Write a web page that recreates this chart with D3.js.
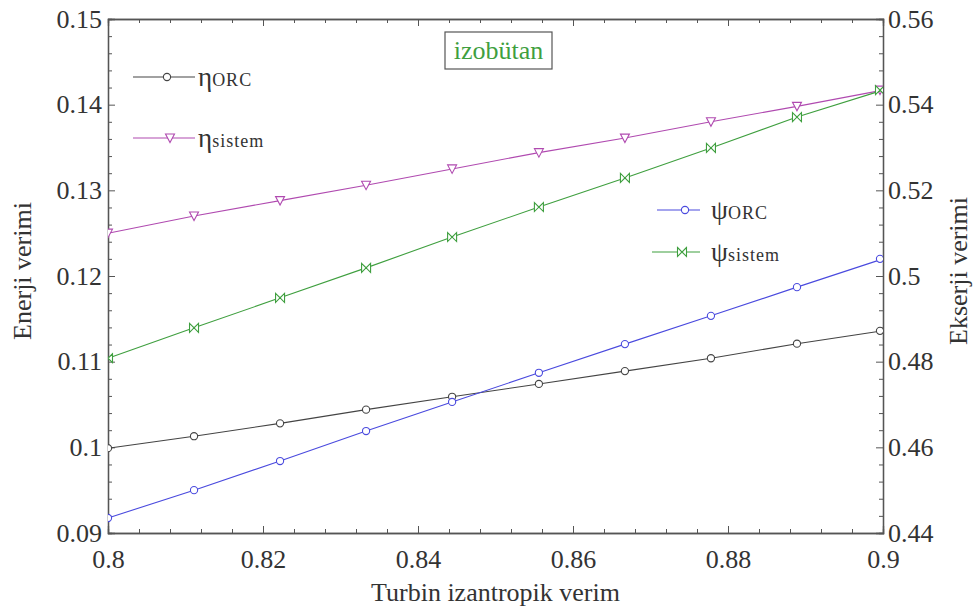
<!DOCTYPE html>
<html>
<head>
<meta charset="utf-8">
<script src="https://cdn.jsdelivr.net/npm/d3@7"></script>
<style>
  body { margin: 0; background: #fff; }
  svg text { font-family: "Liberation Serif", "Times New Roman", serif; fill: #333; }
</style>
</head>
<body>
<div id="chart"></div>
<script>
// turbine isentropic efficiency
var turbinVerim = [0.8, 0.8111, 0.8222, 0.8333, 0.8444, 0.8556, 0.8667, 0.8778, 0.8889, 0.9];
// energy efficiencies (left axis)
var etaORC = [0.0999, 0.1013, 0.1028, 0.1044, 0.1059, 0.1074, 0.1089, 0.1104, 0.1121, 0.1136];
var etaSistem = [0.1250, 0.1270, 0.1288, 0.1306, 0.1325, 0.1344, 0.1361, 0.1380, 0.1398, 0.1417];
// exergy efficiencies (right axis)
var psiORC = [0.4435, 0.4500, 0.4568, 0.4638, 0.4706, 0.4774, 0.4841, 0.4907, 0.4974, 0.5040];
var psiSistem = [0.4808, 0.4879, 0.4949, 0.5019, 0.5091, 0.5161, 0.5229, 0.5299, 0.5371, 0.5434];

var xTicks = [0.8, 0.82, 0.84, 0.86, 0.88, 0.9];
var yLeftTicks = [0.09, 0.1, 0.11, 0.12, 0.13, 0.14, 0.15];
var yRightTicks = [0.44, 0.46, 0.48, 0.5, 0.52, 0.54, 0.56];

var serif = '"Liberation Serif", "Times New Roman", serif';

var margin = { top: 19, right: 95, bottom: 75, left: 108 },
    width = 978 - margin.left - margin.right,
    height = 608 - margin.top - margin.bottom;

var svg = d3.select("#chart").append("svg")
    .attr("width", 978)
    .attr("height", 608)
    .append("g")
    .attr("transform", "translate(" + margin.left + "," + margin.top + ")");

var x = d3.scaleLinear().domain([0.8, 0.9]).range([0, width]);
var yL = d3.scaleLinear().domain([0.09, 0.15]).range([height, 0]);
var yR = d3.scaleLinear().domain([0.44, 0.56]).range([height, 0]);

function minor(ticks, n) {
    var out = [];
    for (var i = 0; i < ticks.length - 1; i++) {
        var step = (ticks[i + 1] - ticks[i]) / n;
        for (var j = 1; j < n; j++) out.push(ticks[i] + step * j);
    }
    return out;
}

// clip for the markers
svg.append("clipPath").attr("id", "plotclip")
    .append("rect").attr("x", 0).attr("y", 0).attr("width", width).attr("height", height);

// minor ticks (inward)
svg.append("g").attr("transform", "translate(0," + height + ")")
    .call(d3.axisBottom(x).tickValues(minor(xTicks, 5)).tickSize(-4).tickFormat(""));
svg.append("g")
    .call(d3.axisTop(x).tickValues(minor(xTicks, 5)).tickSize(-4).tickFormat(""));
svg.append("g")
    .call(d3.axisLeft(yL).tickValues(minor(yLeftTicks, 5)).tickSize(-4).tickFormat(""));
svg.append("g").attr("transform", "translate(" + width + ",0)")
    .call(d3.axisRight(yR).tickValues(minor(yRightTicks, 5)).tickSize(-4).tickFormat(""));

// major ticks + labels
svg.append("g").attr("class", "ax").attr("transform", "translate(0," + height + ")")
    .call(d3.axisBottom(x).tickValues(xTicks).tickSize(-7).tickPadding(17).tickFormat(d3.format("")));
svg.append("g").attr("class", "ax")
    .call(d3.axisTop(x).tickValues(xTicks).tickSize(-7).tickFormat(""));
svg.append("g").attr("class", "ax")
    .call(d3.axisLeft(yL).tickValues(yLeftTicks).tickSize(-7).tickPadding(6).tickFormat(d3.format("")));
svg.append("g").attr("class", "ax").attr("transform", "translate(" + width + ",0)")
    .call(d3.axisRight(yR).tickValues(yRightTicks).tickSize(-7).tickPadding(5).tickFormat(d3.format("")));

svg.selectAll(".ax").attr("font-family", serif).attr("font-size", 26);
svg.selectAll(".domain").attr("stroke", "#555").attr("stroke-width", 1.3);
svg.selectAll(".tick line").attr("stroke", "#555");
svg.selectAll(".tick text")
    .attr("font-family", serif)
    .style("font-family", serif)
    .style("font-size", "26px").attr("fill", "#333");

// axis titles
svg.append("text")
    .attr("x", width / 2).attr("y", height + 68)
    .style("text-anchor", "middle").style("font-size", "26px")
    .text("Turbin izantropik verim");
svg.append("text")
    .attr("transform", "rotate(-90)")
    .attr("x", -height / 2 + 5).attr("y", -77)
    .style("text-anchor", "middle").style("font-size", "26px")
    .text("Enerji verimi");
svg.append("text")
    .attr("transform", "rotate(-90)")
    .attr("x", -height / 2 + 5).attr("y", width + 84)
    .style("text-anchor", "middle").style("font-size", "26px")
    .text("Ekserji verimi");

// markers
function circleM(g, cx, cy, col) {
    g.append("circle").attr("cx", cx).attr("cy", cy).attr("r", 3.6)
        .attr("fill", "#fff").attr("stroke", col).attr("stroke-width", 1.1);
}
function triM(g, cx, cy, col) {
    g.append("path")
        .attr("d", "M" + (cx - 4.5) + "," + (cy - 4) + "L" + (cx + 4.5) + "," + (cy - 4) + "L" + cx + "," + (cy + 4.5) + "Z")
        .attr("fill", "#fff").attr("stroke", col).attr("stroke-width", 1.1);
}
function bowM(g, cx, cy, col) {
    g.append("path")
        .attr("d", "M" + (cx - 4.5) + "," + (cy - 4.5) + "L" + cx + "," + cy + "L" + (cx - 4.5) + "," + (cy + 4.5) + "Z" +
            "M" + (cx + 4.5) + "," + (cy - 4.5) + "L" + cx + "," + cy + "L" + (cx + 4.5) + "," + (cy + 4.5) + "Z")
        .attr("fill", "#fff").attr("stroke", col).attr("stroke-width", 1.1);
}

var series = [
    { vals: etaORC, y: yL, color: "#444", marker: circleM },
    { vals: etaSistem, y: yL, color: "#b04ab0", marker: triM },
    { vals: psiSistem, y: yR, color: "#3f9f3f", marker: bowM },
    { vals: psiORC, y: yR, color: "#4a4ade", marker: circleM }
];

series.forEach(function (s) {
    var line = d3.line()
        .x(function (d, i) { return x(turbinVerim[i]); })
        .y(function (d) { return s.y(d); });
    svg.append("path")
        .datum(s.vals)
        .attr("fill", "none")
        .attr("stroke", s.color)
        .attr("stroke-width", 1.1)
        .attr("d", line);
    var g = svg.append("g").attr("clip-path", "url(#plotclip)");
    s.vals.forEach(function (d, i) {
        s.marker(g, x(turbinVerim[i]) - (i === s.vals.length - 1 ? 3 : 0), s.y(d), s.color);
    });
});

// title box
var tb = svg.append("g");
tb.append("rect").attr("x", 337).attr("y", 13).attr("width", 107).attr("height", 37)
    .attr("fill", "#fff").attr("stroke", "#555").attr("stroke-width", 1.2);
tb.append("text").attr("x", 390.5).attr("y", 40).style("text-anchor", "middle")
    .style("font-size", "26px").style("fill", "#3f9f3f").text("izobütan");

// legends
function legendItem(lx1, lx2, mx, ly, col, marker, sym, sub, tx) {
    svg.append("line").attr("x1", lx1).attr("x2", lx2).attr("y1", ly).attr("y2", ly)
        .attr("stroke", col).attr("stroke-width", 1.1);
    marker(svg, mx, ly, col);
    var t = svg.append("text").attr("x", tx).attr("y", ly + 9);
    t.append("tspan").style("font-size", "27px").text(sym);
    t.append("tspan").style("font-size", "18px").style("letter-spacing", "1px").text(sub);
}
legendItem(25, 87, 59, 58, "#444", circleM, "η", "ORC", 90);
legendItem(25, 87, 62, 119, "#b04ab0", triM, "η", "sistem", 90);
legendItem(549, 592, 577, 191, "#4a4ade", circleM, "ψ", "ORC", 603);
legendItem(544, 592, 574, 233, "#3f9f3f", bowM, "ψ", "sistem", 603);
</script>
</body>
</html>
